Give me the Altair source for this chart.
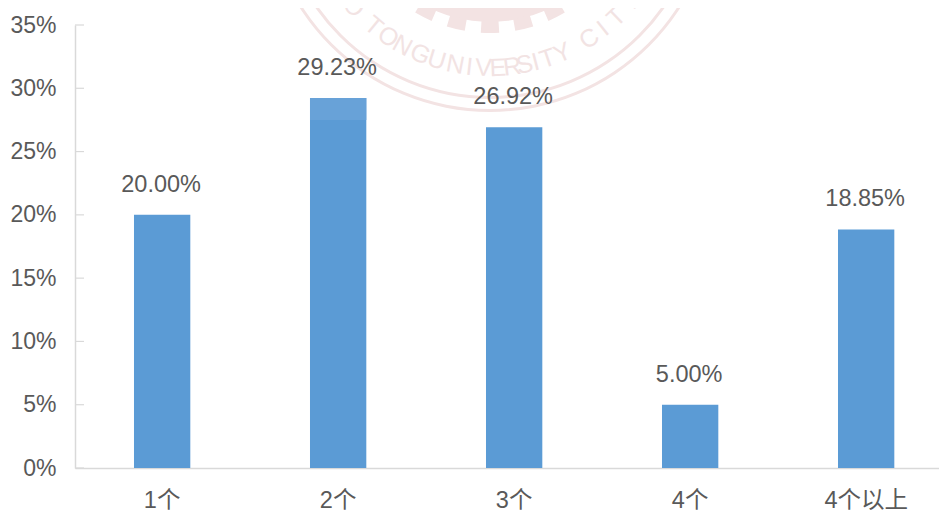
import math
import altair as alt
import pandas as pd

categories = ["1个", "2个", "3个", "4个", "4个以上"]
values = [20.00, 29.23, 26.92, 5.00, 18.85]
labels = ["20.00%", "29.23%", "26.92%", "5.00%", "18.85%"]
ticks = [0, 5, 10, 15, 20, 25, 30, 35]

# faint seal watermark behind the chart
wm_letters = list("OTONGUNIVERSITYCITY")
wm_degrees = [228.5, 219.7, 214, 208.7, 202.5, 197, 191, 186.5, 182, 177.5, 173, 169,
              165.5, 161.5, 156.5, 147, 141.6, 136, 130]
ring_inner = [223, 210, 100]
ring_outer = [226, 213, 136]
ring_start = [90, 90, 120]
ring_end = [270, 270, 240]
tooth_degrees = [153, 166.5, 180, 193.5, 207]
# lighter strip at the top of the second bar
strip_cat = ["2个"]
strip_low = [27.5]
strip_high = [29.23]

df = pd.DataFrame({"cat": categories, "v": values, "label": labels})
FONT = "Liberation Sans"
CJK = "Liberation Sans, Noto Sans CJK SC"
TXT = "#595959"
AXIS = "#D9D9D9"
CX, CY = alt.value(415), alt.value(-139)

rings = pd.DataFrame({
    "r": ring_inner, "r2": ring_outer,
    "a": [math.radians(d) for d in ring_start],
    "a2": [math.radians(d) for d in ring_end],
})
teeth = pd.DataFrame({
    "r": [135] * len(tooth_degrees), "r2": [147] * len(tooth_degrees),
    "a": [math.radians(d - 3.6) for d in tooth_degrees],
    "a2": [math.radians(d + 3.6) for d in tooth_degrees],
})
arcs = pd.concat([rings, teeth], ignore_index=True)
letters = pd.DataFrame({
    "ch": wm_letters,
    "t": [math.radians(d) for d in wm_degrees],
    "rot": [(d - 180) % 360 for d in wm_degrees],
})

arc_layer = alt.Chart(arcs).mark_arc(color="#F3E3E3").encode(
    x=CX, y=CY,
    theta=alt.Theta("a:Q", scale=None), theta2="a2:Q",
    radius=alt.Radius("r:Q", scale=None), radius2="r2:Q",
)
letter_layer = alt.Chart(letters).mark_text(
    font=FONT, fontSize=25, color="#F2E3E3", baseline="middle", align="center", radius=182
).encode(
    x=CX, y=CY,
    theta=alt.Theta("t:Q", scale=None),
    radius=alt.Radius(datum=182, scale=None),
    angle=alt.Angle("rot:Q", scale=None),
    text="ch:N",
)

x = alt.X("cat:N", sort=categories, title=None,
          scale=alt.Scale(paddingInner=0.68, paddingOuter=0.2945, align=0.569),
          axis=alt.Axis(labelAngle=0, labelFont=CJK, labelFontSize=23.5, labelColor=TXT,
                        ticks=False, domainColor=AXIS, domainWidth=1.5, labelPadding=20))
y = alt.Y("v:Q", title=None, scale=alt.Scale(domain=[0, 35], nice=False),
          axis=alt.Axis(values=ticks, labelExpr="datum.value + '%'", labelFont=FONT, labelFontSize=23,
                        labelColor=TXT, grid=False, ticks=False,
                        domainColor=AXIS, domainWidth=1.5, labelPadding=19))

tick_layer = alt.Chart(pd.DataFrame({"t": ticks})).mark_rule(color=AXIS, strokeWidth=1.2).encode(
    y=alt.Y("t:Q"), x=alt.value(0), x2=alt.value(9))
bars = alt.Chart(df).mark_bar(color="#5B9BD5").encode(x=x, y=y)
strip = alt.Chart(pd.DataFrame({"cat": strip_cat, "lo": strip_low, "hi": strip_high})).mark_bar(
    color="#68A2D8").encode(x=alt.X("cat:N", sort=categories), y=alt.Y("lo:Q"), y2="hi:Q")
text = alt.Chart(df).mark_text(dx=-1, dy=-23, baseline="alphabetic", font=FONT, fontSize=23.5, color=TXT).encode(
    x=alt.X("cat:N", sort=categories), y=alt.Y("v:Q"), text="label:N")

chart = (arc_layer + letter_layer + tick_layer + bars + strip + text).properties(
    width=864, height=443,
    autosize=alt.AutoSizeParams(type="none"),
    padding={"left": 67, "top": 17, "right": 0, "bottom": 45},
).configure_view(stroke=None)
chart.save("out.html", embed_options={"renderer": "svg", "actions": False})
